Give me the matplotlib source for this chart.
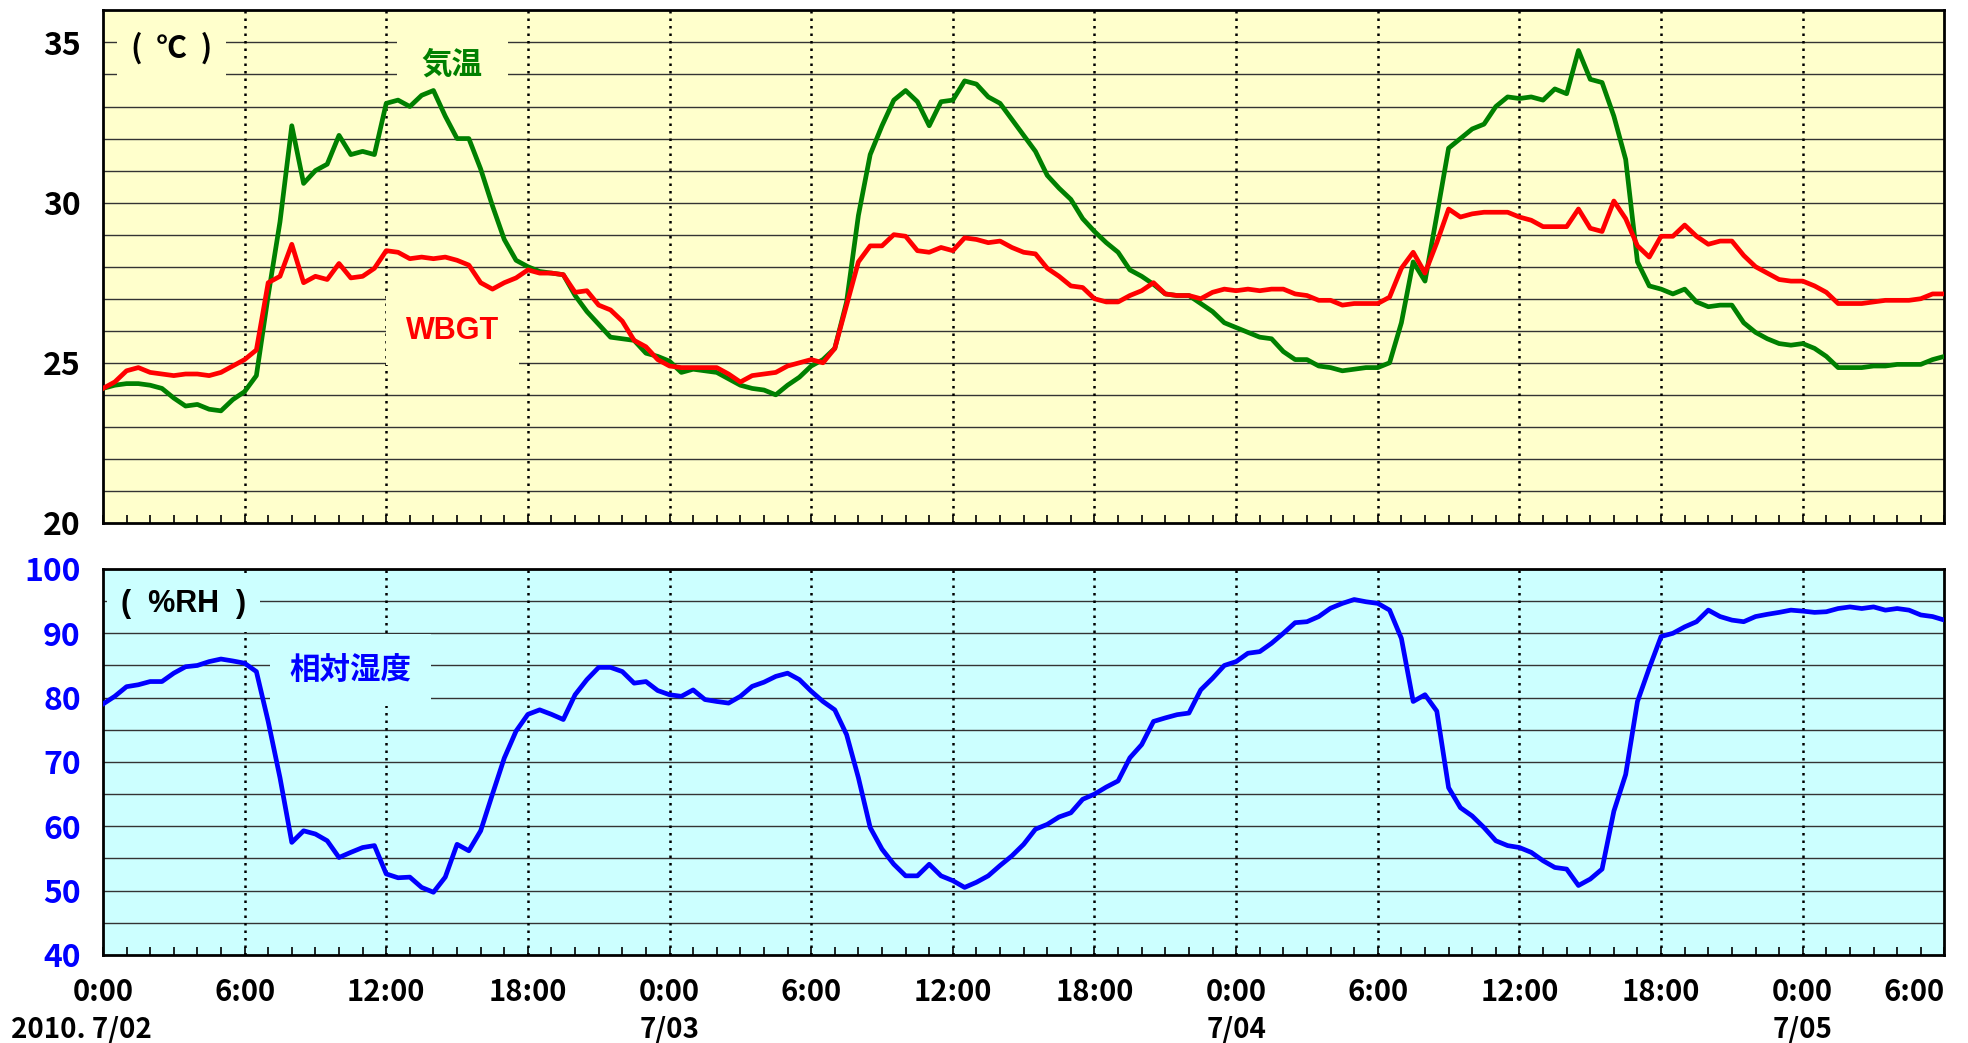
import matplotlib
matplotlib.use("Agg")
import matplotlib.pyplot as plt
import matplotlib.transforms as mtransforms
import numpy as np

plt.rcParams['font.family'] = ['Liberation Sans Narrow', 'Noto Sans CJK JP', 'DejaVu Sans']
plt.rcParams['font.weight'] = 'bold'

# hours from 2010-07-02 0:00, every 30 min
hours = np.arange(0, 78.5, 0.5)

# 気温 (deg C)
temp = [
    24.2, 24.3, 24.35, 24.35, 24.3, 24.2, 23.9, 23.65, 23.7, 23.55, 23.5, 23.85,
    24.1, 24.6, 27.1, 29.4, 32.4, 30.6, 31.0, 31.2, 32.1, 31.5, 31.6, 31.5,
    33.1, 33.2, 33.0, 33.35, 33.5, 32.7, 32.0, 32.0, 31.05, 29.9, 28.85, 28.2,
    28.0, 27.85, 27.8, 27.75, 27.1, 26.6, 26.2, 25.8, 25.75, 25.7, 25.3, 25.2,
    25.05, 24.7, 24.8, 24.75, 24.7, 24.5, 24.3, 24.2, 24.15, 24.0, 24.3, 24.55,
    24.9, 25.1, 25.45, 26.9, 29.6, 31.5, 32.4, 33.2, 33.5, 33.15, 32.4, 33.15,
    33.2, 33.8, 33.7, 33.3, 33.1, 32.6, 32.1, 31.6, 30.85, 30.45, 30.1, 29.5,
    29.1, 28.75, 28.45, 27.9, 27.7, 27.45, 27.15, 27.1, 27.1, 26.85, 26.6, 26.25,
    26.1, 25.95, 25.8, 25.75, 25.35, 25.1, 25.1, 24.9, 24.85, 24.75, 24.8, 24.85,
    24.85, 25.0, 26.25, 28.15, 27.55, 29.6, 31.7, 32.0, 32.3, 32.45, 33.0, 33.3,
    33.25, 33.3, 33.2, 33.55, 33.4, 34.75, 33.85, 33.75, 32.7, 31.35, 28.15, 27.4,
    27.3, 27.15, 27.3, 26.9, 26.75, 26.8, 26.8, 26.25, 25.95, 25.75, 25.6, 25.55,
    25.6, 25.45, 25.2, 24.85, 24.85, 24.85, 24.9, 24.9, 24.95, 24.95, 24.95, 25.1,
    25.2]

# WBGT (deg C)
wbgt = [
    24.2, 24.4, 24.75, 24.85, 24.7, 24.65, 24.6, 24.65, 24.65, 24.6, 24.7, 24.9,
    25.1, 25.4, 27.5, 27.7, 28.7, 27.5, 27.7, 27.6, 28.1, 27.65, 27.7, 27.95,
    28.5, 28.45, 28.25, 28.3, 28.25, 28.3, 28.2, 28.05, 27.5, 27.3, 27.5, 27.65,
    27.9, 27.8, 27.8, 27.75, 27.2, 27.25, 26.8, 26.65, 26.3, 25.7, 25.5, 25.1,
    24.9, 24.85, 24.85, 24.85, 24.85, 24.65, 24.4, 24.6, 24.65, 24.7, 24.9, 25.0,
    25.1, 25.0, 25.45, 26.8, 28.15, 28.65, 28.65, 29.0, 28.95, 28.5, 28.45, 28.6,
    28.5, 28.9, 28.85, 28.75, 28.8, 28.6, 28.45, 28.4, 27.95, 27.7, 27.4, 27.35,
    27.0, 26.9, 26.9, 27.1, 27.25, 27.5, 27.15, 27.1, 27.1, 27.0, 27.2, 27.3,
    27.25, 27.3, 27.25, 27.3, 27.3, 27.15, 27.1, 26.95, 26.95, 26.8, 26.85, 26.85,
    26.85, 27.05, 27.95, 28.45, 27.8, 28.75, 29.8, 29.55, 29.65, 29.7, 29.7, 29.7,
    29.55, 29.45, 29.25, 29.25, 29.25, 29.8, 29.2, 29.1, 30.05, 29.5, 28.65, 28.3,
    28.95, 28.95, 29.3, 28.95, 28.7, 28.8, 28.8, 28.35, 28.0, 27.8, 27.6, 27.55,
    27.55, 27.4, 27.2, 26.85, 26.85, 26.85, 26.9, 26.95, 26.95, 26.95, 27.0, 27.15,
    27.15]

# 相対湿度 (%RH)
rh = [
    79.0, 80.2, 81.7, 82.0, 82.5, 82.5, 83.8, 84.8, 85.0, 85.6, 86.0, 85.7,
    85.35, 84.05, 76.3, 67.55, 57.5, 59.3, 58.8, 57.75, 55.15, 55.95, 56.7, 57.0,
    52.6, 52.0, 52.1, 50.5, 49.75, 52.1, 57.2, 56.2, 59.3, 65.0, 70.6, 74.8,
    77.4, 78.1, 77.4, 76.6, 80.45, 82.8, 84.7, 84.7, 84.05, 82.25, 82.5, 81.1,
    80.45, 80.2, 81.2, 79.7, 79.4, 79.15, 80.2, 81.75, 82.4, 83.3, 83.8, 82.8,
    81.0, 79.4, 78.1, 74.25, 67.55, 59.8, 56.45, 54.1, 52.3, 52.3, 54.1, 52.3,
    51.55, 50.5, 51.3, 52.3, 53.9, 55.4, 57.2, 59.55, 60.3, 61.45, 62.1, 64.2,
    65.0, 66.1, 67.05, 70.65, 72.7, 76.3, 76.85, 77.35, 77.6, 81.2, 83.0, 85.0,
    85.6, 86.9, 87.15, 88.45, 90.0, 91.65, 91.8, 92.6, 93.9, 94.65, 95.25, 94.9,
    94.65, 93.6, 89.2, 79.4, 80.45, 77.9, 66.0, 62.9, 61.6, 59.8, 57.75, 57.0,
    56.7, 55.95, 54.65, 53.6, 53.35, 50.8, 51.8, 53.35, 62.35, 68.05, 79.4, 84.6,
    89.5, 90.0, 91.0, 91.8, 93.6, 92.6, 92.05, 91.8, 92.6, 92.95, 93.25, 93.6,
    93.45, 93.25, 93.35, 93.85, 94.1, 93.85, 94.1, 93.6, 93.85, 93.6, 92.85, 92.6,
    92.05]

time_ticks = [0, 6, 12, 18, 24, 30, 36, 42, 48, 54, 60, 66, 72, 78]
time_labels = ['0:00', '6:00', '12:00', '18:00'] * 3 + ['0:00', '6:00']
day_pos = [-0.9, 24, 48, 72]
day_labels = ['2010. 7/02', '7/03', '7/04', '7/05']

fig = plt.figure(figsize=(19.68, 10.43), dpi=100)
ax1 = fig.add_axes([0.0523, 0.4986, 0.9357, 0.4914])
ax2 = fig.add_axes([0.0523, 0.0844, 0.9357, 0.3701])

for ax in (ax1, ax2):
    ax.set_xlim(0, 78)
    for s in ax.spines.values():
        s.set_linewidth(2)
        s.set_color('black')
    ax.set_xticks(time_ticks)
    ax.set_xticks(np.arange(0, 79, 1), minor=True)
    ax.tick_params(axis='x', which='both', direction='in', length=6, width=1.2)
    ax.tick_params(axis='y', length=0, pad=16)
    for t in time_ticks[1:-1]:
        ax.axvline(t, color='black', lw=1.8, ls=(0, (1, 2)), zorder=2)

# --- temperature panel
ax1.set_facecolor('#FFFFCC')
ax1.set_ylim(20, 36)
ax1.set_yticks([20, 25, 30, 35])
ax1.set_yticklabels(['20', '25', '30', '35'], fontsize=23, fontweight='bold')
for g in range(21, 36):
    ax1.axhline(g, color='#333333', lw=1.0, zorder=1)
ax1.set_xticklabels([])
ax1.plot(hours, temp, color='#008000', lw=3.4, zorder=4)
ax1.plot(hours, wbgt, color='#FF0000', lw=3.4, zorder=5)

box_y = dict(facecolor='#FFFFCC', edgecolor='none', pad=10)
ax1.text(2.9, 34.8, '(  ℃  )', fontsize=22, fontweight='bold', ha='center', va='center',
         family=['Noto Sans CJK JP'], bbox=box_y, zorder=3)
ax1.text(14.8, 34.3, '気温', fontsize=22, fontweight='bold', color='#008000', ha='center',
         va='center', family=['Noto Sans CJK JP'], bbox=dict(facecolor='#FFFFCC', edgecolor='none', pad=18), zorder=3)
ax1.text(14.8, 26.0, 'WBGT', fontsize=22, fontweight='bold', color='#FF0000', ha='center',
         va='center', family=['Liberation Sans', 'DejaVu Sans'], bbox=dict(facecolor='#FFFFCC', edgecolor='none', pad=14), zorder=3)

# --- humidity panel
ax2.set_facecolor('#CCFFFF')
ax2.set_ylim(40, 100)
ax2.set_yticks(range(40, 101, 10))
ax2.set_yticklabels([str(v) for v in range(40, 101, 10)], fontsize=23, fontweight='bold', color='#0000FF')
for g in range(45, 100, 5):
    ax2.axhline(g, color='#333333', lw=1.0, zorder=1)
ax2.plot(hours, rh, color='#0000FF', lw=3.4, zorder=4)
xl = ax2.set_xticklabels(time_labels, fontsize=21, fontweight='bold')
xl[-1].set_horizontalalignment('right')
ax2.tick_params(axis='x', which='major', pad=16)

box_c = dict(facecolor='#CCFFFF', edgecolor='none', pad=10)
ax2.text(3.4, 94.6, '(  %RH  )', fontsize=22, fontweight='bold', ha='center', va='center',
         family=['Liberation Sans', 'DejaVu Sans'], bbox=box_c, zorder=3)
ax2.text(10.5, 84.3, '相対湿度', fontsize=22, fontweight='bold', color='#0000FF', ha='center',
         va='center', family=['Noto Sans CJK JP'], bbox=dict(facecolor='#CCFFFF', edgecolor='none', pad=14), zorder=3)

trans = mtransforms.blended_transform_factory(ax2.transData, fig.transFigure)
for p, lab in zip(day_pos, day_labels):
    ax2.text(p, 0.0134, lab, transform=trans, fontsize=20, fontweight='bold',
             ha='center', va='center')

fig.savefig('out.png', dpi=100)
